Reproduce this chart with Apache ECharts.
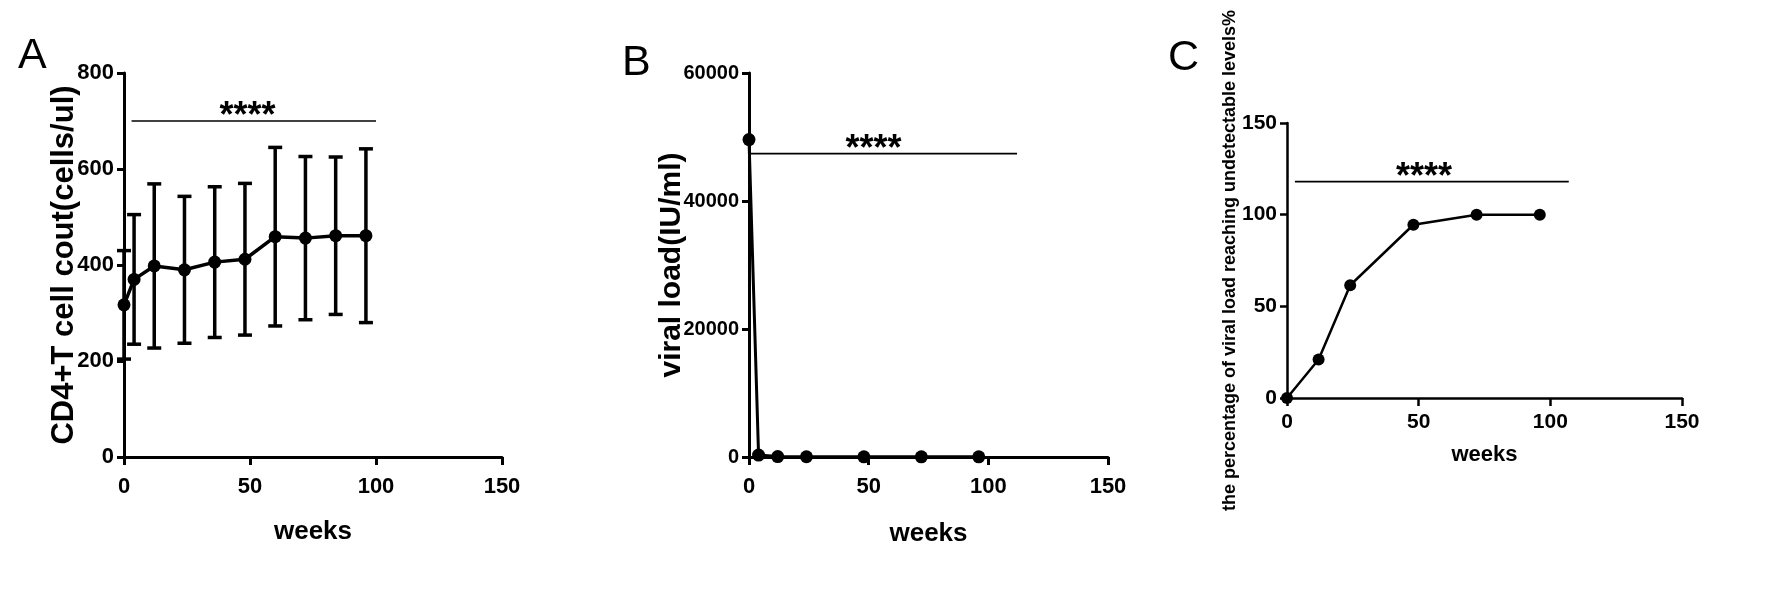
<!DOCTYPE html>
<html><head><meta charset="utf-8">
<script src="https://cdn.jsdelivr.net/npm/echarts@6/dist/echarts.min.js"></script>
<style>html,body{margin:0;padding:0;background:#fff}#c{width:1770px;height:616px}</style>
</head><body><div id="c"></div>
<script>
// ---- data ----
const weeksA = [0, 4, 12, 24, 36, 48, 60, 72, 84, 96];
const cd4Mean = [317, 370, 398, 390, 406, 412, 459, 456, 461, 461];
const cd4SD = [113, 135, 171, 153, 157, 158, 186, 170, 164, 181];
const weeksB = [0, 4, 12, 24, 48, 72, 96];
const viralLoad = [49600, 300, 60, 40, 30, 20, 20];
const weeksC = [0, 12, 24, 48, 72, 96];
const pctUndetectable = [0, 21, 61.5, 94.5, 100, 100];
const xRange = [0, 150, 50];
const yRangeA = [0, 800, 200];
const yRangeB = [0, 60000, 20000];
const yRangeC = [0, 150, 50];
// significance bars: [x start, x end, y, x of stars]
const sigA = [3, 100, 700, 49];
const sigB = [0, 112, 47400, 52];
const sigC = [3, 107, 118, 52];
const panelLabels = ['A', 'B', 'C'];
const yNames = ['CD4+T cell cout(cells/ul)', 'viral load(IU/ml)', 'the percentage of viral load reaching undetectable levels%'];
const xName = 'weeks';

const SANS = '"Liberation Sans",Arial,sans-serif';

function errRender(params, api) {
  const x = api.value(0), lo = api.value(1), hi = api.value(2);
  const pLo = api.coord([x, lo]), pHi = api.coord([x, hi]);
  const w = 7;
  const st = { stroke: '#000', lineWidth: 3.5 };
  return { type: 'group', children: [
    { type: 'line', shape: { x1: pLo[0], y1: pLo[1], x2: pHi[0], y2: pHi[1] }, style: st },
    { type: 'line', shape: { x1: pLo[0] - w, y1: pLo[1], x2: pLo[0] + w, y2: pLo[1] }, style: st },
    { type: 'line', shape: { x1: pHi[0] - w, y1: pHi[1], x2: pHi[0] + w, y2: pHi[1] }, style: st }
  ]};
}
function sigRender(params, api) {
  const y = api.value(2);
  const a = api.coord([api.value(0), y]), b = api.coord([api.value(1), y]), t = api.coord([api.value(3), y]);
  return { type: 'group', children: [
    { type: 'line', shape: { x1: a[0], y1: a[1], x2: b[0], y2: b[1] }, style: { stroke: '#000', lineWidth: 1.6 } },
    { type: 'text', x: t[0], y: t[1] - 4, style: { text: '****', fontSize: 36, fontWeight: 'bold', fontFamily: SANS, fill: '#000', align: 'center', verticalAlign: 'middle' } }
  ]};
}

function xAx(gi, fs, lw, gap, nfs, margin) {
  return { gridIndex: gi, type: 'value', min: xRange[0], max: xRange[1], interval: xRange[2],
    name: xName, nameLocation: 'middle', nameGap: gap, nameMoveOverlap: false,
    nameTextStyle: { fontFamily: SANS, fontWeight: 'bold', fontSize: nfs, color: '#000' },
    axisLine: { onZero: false, lineStyle: { color: '#000', width: lw } },
    axisTick: { length: 8, lineStyle: { color: '#000', width: lw } },
    axisLabel: { color: '#000', fontFamily: SANS, fontWeight: 'bold', fontSize: fs, margin: margin },
    splitLine: { show: false } };
}
function yAx(gi, r, name, fs, lw, gap, nfs) {
  return { gridIndex: gi, type: 'value', min: r[0], max: r[1], interval: r[2],
    name: name, nameLocation: 'middle', nameGap: gap, nameMoveOverlap: false,
    nameTextStyle: { fontFamily: SANS, fontWeight: 'bold', fontSize: nfs, color: '#000' },
    axisLine: { show: true, lineStyle: { color: '#000', width: lw } },
    axisTick: { show: true, length: 7, lineStyle: { color: '#000', width: lw } },
    axisLabel: { color: '#000', fontFamily: SANS, fontWeight: 'bold', fontSize: fs, margin: 10,
      formatter: v => String(v) },
    splitLine: { show: false } };
}

const chart = echarts.init(document.getElementById('c'), null, { renderer: 'canvas' });
chart.setOption({
  backgroundColor: '#fff',
  animation: false,
  title: [
    { text: panelLabels[0], left: 13, top: 30 },
    { text: panelLabels[1], left: 617, top: 37 },
    { text: panelLabels[2], left: 1163, top: 32 }
  ].map(t => Object.assign(t, { textStyle: { fontSize: 43, fontWeight: 'normal', color: '#000', fontFamily: SANS } })),
  grid: [
    { left: 124, top: 73, width: 378, height: 384 },
    { left: 749, top: 73, width: 359, height: 384 },
    { left: 1287, top: 123, width: 395, height: 275 }
  ],
  xAxis: [
    xAx(0, 22, 3, 62, 26, 19),
    xAx(1, 22, 3, 64, 26, 19),
    xAx(2, 21, 2.5, 46, 22, 14)
  ],
  yAxis: [
    yAx(0, yRangeA, yNames[0], 22, 3, 44, 31),
    yAx(1, yRangeB, yNames[1], 20, 3, 62, 30),
    yAx(2, yRangeC, yNames[2], 21, 2.5, 48, 18)
  ],
  series: [
    { type: 'custom', xAxisIndex: 0, yAxisIndex: 0, clip: false, renderItem: errRender,
      encode: { x: 0, y: [1, 2] },
      data: weeksA.map((w, i) => [w, cd4Mean[i] - cd4SD[i], cd4Mean[i] + cd4SD[i]]) },
    { type: 'line', xAxisIndex: 0, yAxisIndex: 0, data: weeksA.map((w, i) => [w, cd4Mean[i]]),
      symbol: 'circle', symbolSize: 13, lineStyle: { color: '#000', width: 3.5 }, itemStyle: { color: '#000' } },
    { type: 'custom', xAxisIndex: 0, yAxisIndex: 0, clip: false, renderItem: sigRender, data: [sigA] },

    { type: 'line', xAxisIndex: 1, yAxisIndex: 1, data: weeksB.map((w, i) => [w, viralLoad[i]]),
      symbol: 'circle', symbolSize: 13, lineStyle: { color: '#000', width: 3 }, itemStyle: { color: '#000' } },
    { type: 'custom', xAxisIndex: 1, yAxisIndex: 1, clip: false, renderItem: sigRender, data: [sigB] },

    { type: 'line', xAxisIndex: 2, yAxisIndex: 2, data: weeksC.map((w, i) => [w, pctUndetectable[i]]),
      symbol: 'circle', symbolSize: 12, lineStyle: { color: '#000', width: 2.5 }, itemStyle: { color: '#000' } },
    { type: 'custom', xAxisIndex: 2, yAxisIndex: 2, clip: false, renderItem: sigRender, data: [sigC] }
  ]
});
</script></body></html>
